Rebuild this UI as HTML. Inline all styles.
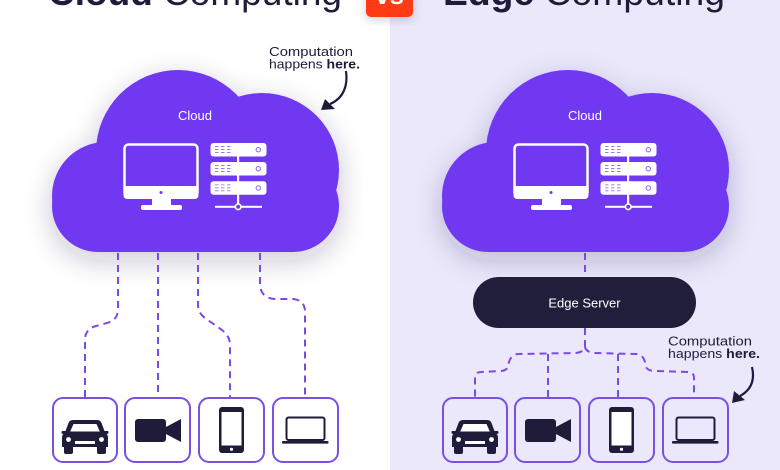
<!DOCTYPE html>
<html>
<head>
<meta charset="utf-8">
<style>
html,body{margin:0;padding:0;}
body{width:780px;height:470px;overflow:hidden;background:#ffffff;}
svg{display:block;}
text{font-family:"Liberation Sans",sans-serif;}
</style>
</head>
<body>
<svg width="780" height="470" viewBox="0 0 780 470" xmlns="http://www.w3.org/2000/svg">
  <defs>
    <filter id="sh" x="-40%" y="-40%" width="180%" height="180%">
      <feDropShadow dx="0" dy="8" stdDeviation="14" flood-color="#1f1c3a" flood-opacity="0.24"/>
    </filter>
    <filter id="sh2" x="-30%" y="-30%" width="160%" height="160%">
      <feDropShadow dx="0" dy="3" stdDeviation="5" flood-color="#000" flood-opacity="0.18"/>
    </filter>
    <g id="cloud">
      <g filter="url(#sh)">
        <g fill="#7038f0">
          <circle cx="178" cy="152" r="82"/>
          <circle cx="262" cy="170" r="77"/>
          <circle cx="106" cy="196" r="54"/>
          <rect x="52" y="160" width="287" height="92" rx="46"/>
        </g>
      </g>
      <text x="195" y="120" font-size="13" fill="#ffffff" text-anchor="middle">Cloud</text>
      <!-- monitor -->
      <rect x="124.5" y="144.5" width="73" height="52" rx="4" fill="none" stroke="#fff" stroke-width="2.5"/>
      <path d="M123.5 186 H198.5 V195 Q198.5 199 194.5 199 H127.5 Q123.5 199 123.5 195 Z" fill="#fff"/>
      <circle cx="161" cy="192.5" r="1.5" fill="#7038f0"/>
      <rect x="152" y="199" width="19" height="7" fill="#fff"/>
      <rect x="141" y="205" width="41" height="5" rx="2" fill="#fff"/>
      <!-- server -->
      <rect x="237" y="155" width="2.2" height="52" fill="#fff"/>
      <rect x="210.5" y="143" width="56" height="13.5" rx="3" fill="#fff"/>
      <rect x="210.5" y="162" width="56" height="13.5" rx="3" fill="#fff"/>
      <rect x="210.5" y="181.3" width="56" height="13.5" rx="3" fill="#fff"/>
      <g stroke="#9a78f0" stroke-width="0.9">
        <path d="M215 146.5h3.5M215 149.5h3.5M215 152.5h3.5M221 146.5h3.5M221 149.5h3.5M221 152.5h3.5M227 146.5h3.5M227 149.5h3.5M227 152.5h3.5"/>
        <path d="M215 165.5h3.5M215 168.5h3.5M215 171.5h3.5M221 165.5h3.5M221 168.5h3.5M221 171.5h3.5M227 165.5h3.5M227 168.5h3.5M227 171.5h3.5"/>
        <path d="M215 184.8h3.5M215 187.8h3.5M215 190.8h3.5M221 184.8h3.5M221 187.8h3.5M221 190.8h3.5M227 184.8h3.5M227 187.8h3.5M227 190.8h3.5"/>
      </g>
      <g fill="none" stroke="#8a62ee" stroke-width="1">
        <circle cx="258.3" cy="149.7" r="2.2"/>
        <circle cx="258.3" cy="168.7" r="2.2"/>
        <circle cx="258.3" cy="188" r="2.2"/>
      </g>
      <rect x="215" y="205.8" width="47" height="2" fill="#fff"/>
      <circle cx="238.2" cy="206.8" r="2.8" fill="#7038f0" stroke="#fff" stroke-width="1.6"/>
    </g>
    <g id="devices">
      <rect x="53" y="398" width="64" height="64" rx="10" fill="none" stroke="#7b4fe2" stroke-width="2"/>
      <rect x="125" y="398" width="65" height="64" rx="10" fill="none" stroke="#7b4fe2" stroke-width="2"/>
      <rect x="199" y="398" width="65" height="64" rx="10" fill="none" stroke="#7b4fe2" stroke-width="2"/>
      <rect x="273" y="398" width="65" height="64" rx="10" fill="none" stroke="#7b4fe2" stroke-width="2"/>
      <!-- car -->
      <g fill="#1f1c3a">
        <path d="M73 420 H97 Q100.5 420 101.5 423 L104.5 431 H107.5 Q108.5 431 108.5 432.5 Q108.5 434 106.5 434 Q108 435 108 438 V447 H62 V438 Q62 435 63.5 434 Q61.5 434 61.5 432.5 Q61.5 431 62.5 431 H65.5 L68.5 423 Q69.5 420 73 420 Z"/>
        <rect x="64" y="445" width="9" height="9" rx="2"/>
        <rect x="97" y="445" width="9" height="9" rx="2"/>
      </g>
      <path d="M73.5 424 H96.5 L99.8 431.5 H70.2 Z" fill="#fff"/>
      <circle cx="68.5" cy="439.5" r="2.4" fill="#fff"/>
      <circle cx="101.5" cy="439.5" r="2.4" fill="#fff"/>
      <rect x="75" y="441" width="20" height="3" fill="#fff"/>
      <!-- camera -->
      <rect x="135" y="419" width="31" height="23" rx="3" fill="#1f1c3a"/>
      <path d="M165 427.5 L181 419 V442 L165 433.5 Z" fill="#1f1c3a"/>
      <!-- phone -->
      <rect x="219" y="407" width="25" height="46" rx="3" fill="#1f1c3a"/>
      <rect x="221.5" y="412" width="20" height="33.5" fill="#fff"/>
      <circle cx="231.5" cy="449.3" r="1.6" fill="#fff"/>
      <!-- laptop -->
      <rect x="286.5" y="417.5" width="38" height="22.5" rx="2" fill="none" stroke="#1f1c3a" stroke-width="2"/>
      <rect x="282" y="441" width="46.5" height="2.6" rx="1" fill="#1f1c3a"/>
    </g>
  </defs>

  <!-- backgrounds -->
  <rect x="0" y="0" width="390" height="470" fill="#ffffff"/>
  <rect x="390" y="0" width="390" height="470" fill="#ebe8fc"/>

  <!-- titles -->
  <text x="48" y="5" font-size="37" fill="#1f1c3a" textLength="294" lengthAdjust="spacingAndGlyphs"><tspan font-weight="bold">Cloud</tspan> Computing</text>
  <text x="443" y="5" font-size="37" fill="#1f1c3a" textLength="282" lengthAdjust="spacingAndGlyphs"><tspan font-weight="bold">Edge</tspan> Computing</text>

  <!-- vs badge -->
  <g filter="url(#sh2)">
    <rect x="366" y="-12" width="47" height="29" rx="5" fill="#ff3b14"/>
  </g>
  <text x="389.5" y="4" font-size="26" font-weight="bold" fill="#ffffff" text-anchor="middle">vs</text>

  <!-- clouds -->
  <use href="#cloud"/>
  <use href="#cloud" transform="translate(390,0)"/>

  <!-- left connectors -->
  <g fill="none" stroke="#7a4ae6" stroke-width="2" stroke-dasharray="7 5">
    <path d="M118 253 V309 Q118 320 107 323 L96 326 Q85 329 85 340 V397"/>
    <path d="M158 253 V397"/>
    <path d="M198 253 V305 Q198 313 205 318 L222 330 Q230 336 230 345 V397"/>
    <path d="M260 253 V283 Q260 298 275 299 L293 299 Q305 300 305 312 V397"/>
  </g>

  <!-- right connectors -->
  <g fill="none" stroke="#7a4ae6" stroke-width="2" stroke-dasharray="7 5">
    <path d="M585 253 V277"/>
    <path d="M585 328 V347 Q584 352 576 353 L518 354 Q511 355 509 362 L508 367 Q506 371 500 371 L481 372 Q475 372 475 378 V397"/>
    <path d="M585 347 Q586 352 594 353 L637 354 Q643 355 645 362 L646 367 Q648 371 655 371 L688 372 Q694 372 694 378 V397"/>
    <path d="M548 354 V397"/>
    <path d="M618 354 V397"/>
  </g>

  <!-- edge server -->
  <rect x="473" y="277" width="223" height="51" rx="25.5" fill="#211e3c"/>
  <text x="584.5" y="307.5" font-size="13" fill="#ffffff" text-anchor="middle">Edge Server</text>

  <!-- devices -->
  <use href="#devices"/>
  <use href="#devices" transform="translate(390,0)"/>

  <!-- left annotation -->
  <text x="269" y="56" font-size="13" fill="#1f1c3a" textLength="84" lengthAdjust="spacingAndGlyphs">Computation</text>
  <text x="269" y="68.5" font-size="13" fill="#1f1c3a" textLength="91" lengthAdjust="spacingAndGlyphs">happens <tspan font-weight="bold">here.</tspan></text>
  <path d="M346 71 C348 85 344 98 330 104" fill="none" stroke="#1f1c3a" stroke-width="2.2"/>
  <polygon points="321,110 325,99 335,109" fill="#1f1c3a"/>

  <!-- right annotation -->
  <text x="668" y="345.5" font-size="13" fill="#1f1c3a" textLength="84" lengthAdjust="spacingAndGlyphs">Computation</text>
  <text x="668" y="358" font-size="13" fill="#1f1c3a" textLength="92" lengthAdjust="spacingAndGlyphs">happens <tspan font-weight="bold">here.</tspan></text>
  <path d="M752 367 C755 380 751 390 740 396" fill="none" stroke="#1f1c3a" stroke-width="2.2"/>
  <polygon points="732,403 734,391 745,400" fill="#1f1c3a"/>
</svg>
</body>
</html>
